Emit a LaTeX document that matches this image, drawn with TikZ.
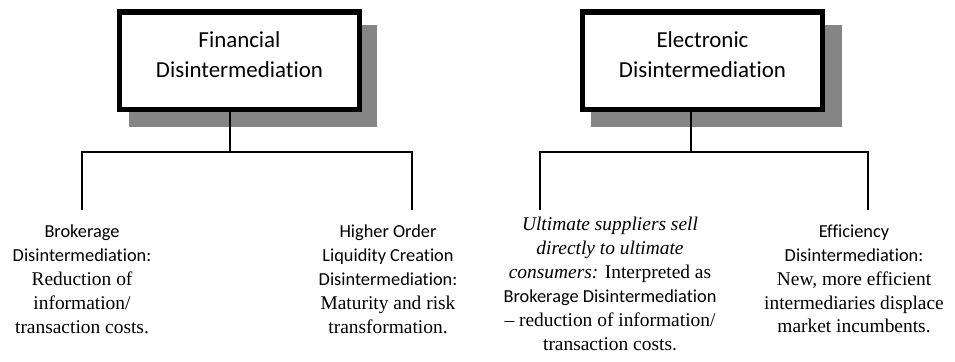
\documentclass[tikz,border=0pt]{standalone}
\usepackage{fontspec}
\setmainfont{Liberation Serif}
\newfontfamily\termfont[Ligatures=NoCommon]{Carlito}
\begin{document}
\begin{tikzpicture}[x=1bp,y=-1bp]
\tikzset{
  headbox/.style={draw=black, line width=5.5bp, fill=white, minimum width=240bp,
    minimum height=97.5bp, inner sep=0pt, align=center,
    font=\termfont\fontsize{23}{30}\selectfont},
  shadowbox/.style={fill=black!48, draw=none},
  conn/.style={draw=black, line width=2.6bp},
  leaf/.style={anchor=north, align=center, inner sep=0pt,
    font=\fontsize{19.5}{24}\selectfont}
}
\newcommand{\tm}[1]{{\termfont\fontsize{18.4}{24}\selectfont #1}}
\newcommand{\lift}{\rule[-12bp]{0pt}{12bp}}
\useasboundingbox (0,0) rectangle (955,361);

% drop shadows behind the two heading boxes
\fill[shadowbox] (129,25) rectangle (377,127);
\fill[shadowbox] (591,25) rectangle (842,127);

% heading boxes
\node[headbox] (fin) at (239.5,60.5) {Financial\\Disintermediation\lift};
\node[headbox] (ele) at (702.5,60.5) {Electronic\\Disintermediation\lift};

% leaves
\node[leaf] (brok) at (82,224.5) {\tm{Brokerage}\\\tm{Disintermediation:}\\Reduction of\\information/\\transaction costs.};
\node[leaf] (liq) at (388,224.5) {\tm{Higher Order}\\\tm{Liquidity Creation}\\\tm{Disintermediation:}\\Maturity and risk\\transformation.};
\node[leaf] (ult) at (610,217) {\textit{Ultimate suppliers sell}\\\textit{directly to ultimate}\\\textit{consumers:} Interpreted as\\\tm{Brokerage Disintermediation}\\-- reduction of information/\\transaction costs.};
\node[leaf] (eff) at (854,224.5) {\tm{Efficiency}\\\tm{Disintermediation:}\\New, more efficient\\intermediaries displace\\market incumbents.};

% branching connectors
\coordinate (finmid) at (230,152);
\coordinate (finL) at (82,152);
\coordinate (finR) at (412,152);
\coordinate (finLend) at (82,210);
\coordinate (finRend) at (412,210);
\coordinate (elemid) at (691,152);
\coordinate (eleL) at (540,152);
\coordinate (eleR) at (868,152);
\coordinate (eleLend) at (540,210);
\coordinate (eleRend) at (868,210);

\draw[conn] (finmid |- fin.south) -- (finmid);
\draw[conn] (finLend) -- (finL) -- (finR) -- (finRend);
\draw[conn] (elemid |- ele.south) -- (elemid);
\draw[conn] (eleLend) -- (eleL) -- (eleR) -- (eleRend);
\end{tikzpicture}
\end{document}
